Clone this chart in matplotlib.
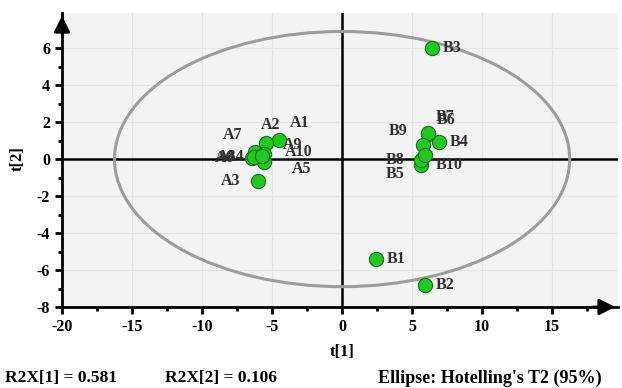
import matplotlib
matplotlib.use("Agg")
import matplotlib.pyplot as plt
from matplotlib.patches import Ellipse
import numpy as np

plt.rcParams['font.family'] = ['Liberation Serif', 'DejaVu Serif']
plt.rcParams['font.weight'] = 'bold'
plt.rcParams['axes.unicode_minus'] = False

# Data
labels = ["A1", "A2", "A3", "A4", "A5", "A6", "A7", "A8", "A9", "A10",
          "B1", "B2", "B3", "B4", "B5", "B6", "B7", "B8", "B9", "B10"]
t1 = [-4.5, -5.4, -6.0, -5.7, -5.6, -6.4, -6.2, -6.3, -5.6, -5.7,
      2.4, 5.9, 6.4, 6.9, 5.6, 6.15, 6.1, 5.6, 5.8, 5.9]
t2 = [1.05, 0.85, -1.2, 0.1, -0.15, 0.05, 0.4, 0.1, 0.3, 0.15,
      -5.4, -6.8, 6.0, 0.9, -0.3, 1.35, 1.4, -0.05, 0.75, 0.2]
# label offsets in points (placement only)
lab_dx = [8, -4, -27, -27, 20, -27, -23, -27, 14, 16,
          8, 8, 8, 8, -25, 6, 6, -25, -25, 8]
lab_dy = [12, 13, 0, 0, -5, 0, 12, 0, 6, 3,
          0, 0, 0, 0, -7, 10, 12, 0, 10, -7]
ellipse_a = 16.25
ellipse_b = 6.9
r2x = ["R2X[1] = 0.581", "R2X[2] = 0.106"]
ellipse_txt = "Ellipse: Hotelling's T2 (95%)"

fig = plt.figure(figsize=(6.22, 3.88), dpi=100)
ax = fig.add_axes([62/622, (388-307)/388, 556/622, 294/388])
ax.set_facecolor('#f3f3f3')
ax.set_xlim(-20, 19.7)
ax.set_ylim(-8, 7.9)

for v in [-15, -10, -5, 5, 10, 15]:
    ax.axvline(v, color='#e4e4e4', lw=0.9, zorder=1)
for v in [-6, -4, -2, 2, 4, 6]:
    ax.axhline(v, color='#e4e4e4', lw=0.9, zorder=1)

ax.axvline(0, color='black', lw=1.8, zorder=2)
ax.axhline(0, color='black', lw=1.8, zorder=2)

ax.add_patch(Ellipse((0, 0), 2*ellipse_a, 2*ellipse_b, fill=False,
                     edgecolor='#9c9c9c', lw=2.2, zorder=3))

ax.scatter(t1, t2, s=105, color='#22c822', edgecolor='#1a6e1a', lw=0.8, zorder=5)
for lb, x, y, dx, dy in zip(labels, t1, t2, lab_dx, lab_dy):
    ax.annotate(lb, (x, y), xytext=(dx, dy), textcoords='offset points',
                fontsize=11.5, color='#303030', fontweight='bold', zorder=6,
                va='center', ha='left')

for s in ['top', 'right']:
    ax.spines[s].set_visible(False)
for s in ['left', 'bottom']:
    ax.spines[s].set_linewidth(2)

ax.set_xticks([-20, -15, -10, -5, 0, 5, 10, 15])
ax.set_xticks(np.arange(-17.5, 19, 2.5), minor=True)
ax.set_yticks([-8, -6, -4, -2, 0, 2, 4, 6])
ax.set_yticks(np.arange(-7, 7.5, 1), minor=True)
ax.tick_params(which='major', direction='out', length=5, width=2, labelsize=11.5)
ax.tick_params(which='minor', direction='out', length=3, width=2)
for t in ax.get_xticklabels() + ax.get_yticklabels():
    t.set_fontweight('bold')

# arrowheads
ax.annotate('', xy=(0, 1.0), xytext=(0, 0.92), xycoords='axes fraction',
            arrowprops=dict(arrowstyle='-|>', color='black', lw=2,
                            mutation_scale=24), annotation_clip=False)
ax.annotate('', xy=(1.0, 0), xytext=(0.95, 0), xycoords='axes fraction',
            arrowprops=dict(arrowstyle='-|>', color='black', lw=2,
                            mutation_scale=24), annotation_clip=False)

fig.text(342/622, 1-352/388, 't[1]', ha='center', va='center', fontsize=12, fontweight='bold')
fig.text(18/622, 1-159/388, 't[2]', ha='center', va='center', fontsize=12,
         fontweight='bold', rotation=90)
fig.text(5/622, 1-378/388, r2x[0], ha='left', va='center', fontsize=12.5, fontweight='bold')
fig.text(165/622, 1-378/388, r2x[1], ha='left', va='center', fontsize=12.5, fontweight='bold')
fig.text(378/622, 1-378/388, ellipse_txt, ha='left', va='center', fontsize=13, fontweight='bold')

fig.savefig('out.png', dpi=100)
